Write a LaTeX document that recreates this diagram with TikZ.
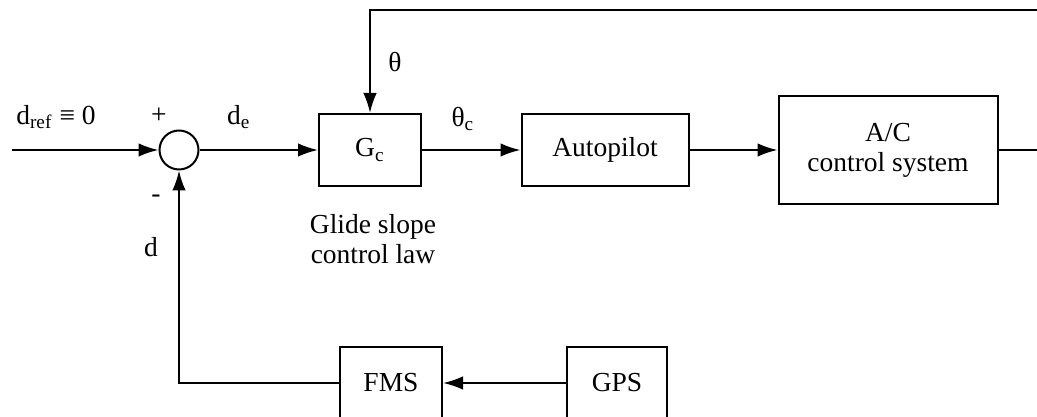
\documentclass[tikz,border=0pt]{standalone}
\usepackage{fontspec}
\setmainfont{Liberation Serif}
\usetikzlibrary{arrows.meta}
\begin{document}
\begin{tikzpicture}[
      x=0.4pt, y=-0.4pt,
      font=\fontsize{11}{12}\selectfont,
      blk/.style={draw, line width=0.8pt, inner sep=0pt, minimum height=28.8pt, align=center},
      sumpt/.style={circle, draw, line width=0.8pt, minimum size=15.6pt, inner sep=0pt},
      sig/.style={line width=0.8pt, -{Latex[length=8pt,width=5.4pt]}},
      wire/.style={line width=0.8pt}
    ]
    \useasboundingbox (0,0) rectangle (1037,417);
    % forward path
    \coordinate (in) at (12,150);
    \node[sumpt] (sum) at (179,150) {};
    \node[blk, minimum width=40.8pt] (Gc) at (370,150) {G\textsubscript{c}};
    \node[blk, minimum width=66.8pt] (ap) at (605,150) {Autopilot};
    \node[blk, minimum width=87.6pt, minimum height=43.2pt] (ac) at (888,150) {A/C\\control system};
    % measurement path
    \node[blk, minimum width=40.8pt] (fms) at (391,383) {FMS};
    \node[blk, minimum width=40pt] (gps) at (617,383) {GPS};
    \coordinate (out) at (1040,150);
    \coordinate (top) at (1040,10);
    \draw[sig] (in) -- (sum);
    \draw[sig] (sum) -- (Gc);
    \draw[sig] (Gc) -- (ap);
    \draw[sig] (ap) -- (ac);
    \draw[wire] (ac) -- (out) -- (top);
    \draw[sig] (top) -| (Gc);
    \draw[sig] (gps) -- (fms);
    \draw[sig] (fms) -| (sum);
    % labels
    \node (lref) at (56,117) {d\textsubscript{ref} ≡ 0};
    \node (lplus) at (159,116) {+};
    \node (lde) at (239,117) {d\textsubscript{e}};
    \node (lth) at (395,62) {θ};
    \node (lthc) at (463,119) {θ\textsubscript{c}};
    \node (lminus) at (156,199) {-};
    \node (ld) at (151,247) {d};
    \node[align=center] (law) at (373,239) {Glide slope\\control law};
  \end{tikzpicture}
\end{document}
